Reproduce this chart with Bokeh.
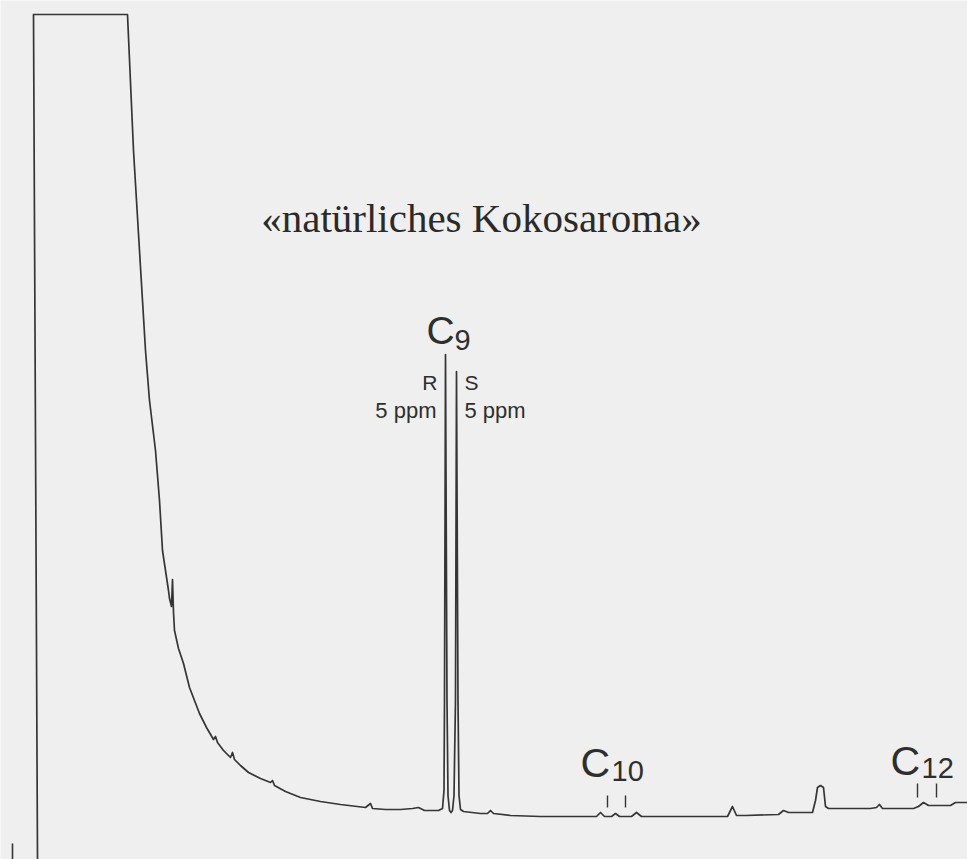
from bokeh.plotting import figure
from bokeh.models import Range1d, Label
from bokeh.embed import file_html
from bokeh.resources import INLINE

# Chromatogram trace: retention position and detector response
retention = [37, 33, 127, 133, 142, 145, 149, 155, 159, 162, 168, 169, 171, 172, 173, 174,
             178, 183, 186, 189, 194, 199, 206, 213, 215, 217, 223, 230, 232, 234, 240, 248,
             260, 270, 272, 274, 285, 300, 320, 340, 365, 370, 372, 385, 400, 412, 418, 424,
             438, 442, 443.5, 444, 445, 446.5, 447.5, 449, 450.5, 452, 453.5, 455, 456, 457.5,
             458.5, 460, 463, 480, 487, 490, 493, 510, 540, 596, 600, 604, 611, 615, 619, 631,
             636, 641, 700, 727, 732, 736, 745, 778, 783, 788, 812, 815, 817, 820, 823, 825,
             828, 870, 876, 879, 882, 913, 918, 923, 928, 950, 955, 967]
response = [0, 845, 845, 709, 559, 509, 459, 409, 359, 309, 269, 261, 253, 280, 247, 229,
            211, 196, 184, 172, 159, 146, 132, 120, 123, 117, 109, 102, 107, 100, 94, 87,
            81, 77, 79, 74, 68, 62, 58, 55, 52, 56, 51, 50, 50, 51, 52, 49,
            49, 51, 69, 159, 505, 159, 64, 49, 47, 49, 64, 159, 488, 159,
            64, 50, 48, 46, 46, 49, 46, 44, 43, 43, 47, 43, 43, 46, 43, 43,
            47, 43, 43, 43, 53, 44, 44, 45, 49, 47, 47, 59, 72, 74, 72, 53,
            51, 51, 52, 55, 51, 51, 53, 57, 54, 54, 57, 57]

# Injection mark
inject_x = [12, 12]
inject_y = [0, 16]

# Enantiomer tick marks below the C10 and C12 labels
tick_x = [607, 625, 917, 936]
tick_y0 = [52, 52, 62, 62]
tick_y1 = [64, 64, 76, 76]

title_text = "«natürliches Kokosaroma»"
peak_labels = ["C", "C", "C"]
peak_subs = ["9", "10", "12"]

LINE = "#353535"
BG = "#efefef"

p = figure(width=967, height=859, output_backend="svg", toolbar_location=None,
           x_range=Range1d(0, 967), y_range=Range1d(0, 859), min_border=0,
           background_fill_color=BG, border_fill_color=BG, outline_line_color=None)
p.axis.visible = False
p.grid.visible = False

p.line(retention, response, line_color=LINE, line_width=1.7, line_join="round")
p.line(inject_x, inject_y, line_color=LINE, line_width=1.6)
p.segment(x0=tick_x, y0=tick_y0, x1=tick_x, y1=tick_y1, line_color=LINE, line_width=1.4)

def lab(x, y, text, size, font="Liberation Sans", align="left", color="#2e2e2e"):
    p.add_layout(Label(x=x, y=y, text=text, text_font=font, text_font_size=f"{size}px",
                       text_align=align, text_baseline="alphabetic", text_color=color))

lab(481, 642, title_text, 41, font="Liberation Serif", align="center", color="#2a2a2a")

# Peak labels
lab(426, 529, peak_labels[0], 39)
lab(454, 520, peak_subs[0], 29)
lab(580, 97, peak_labels[1], 41)
lab(611, 89, peak_subs[1], 29)
lab(890, 99, peak_labels[2], 41)
lab(921, 92, peak_subs[2], 29)

lab(437, 477, "R", 21, align="right")
lab(436, 449, "5 ppm", 22, align="right")
lab(464, 477, "S", 21)
lab(464, 449, "5 ppm", 22)

html = file_html(p, INLINE)
html = html.replace("<body>", f'<body style="background:{BG}">', 1)
open("out.html", "w").write(html)
